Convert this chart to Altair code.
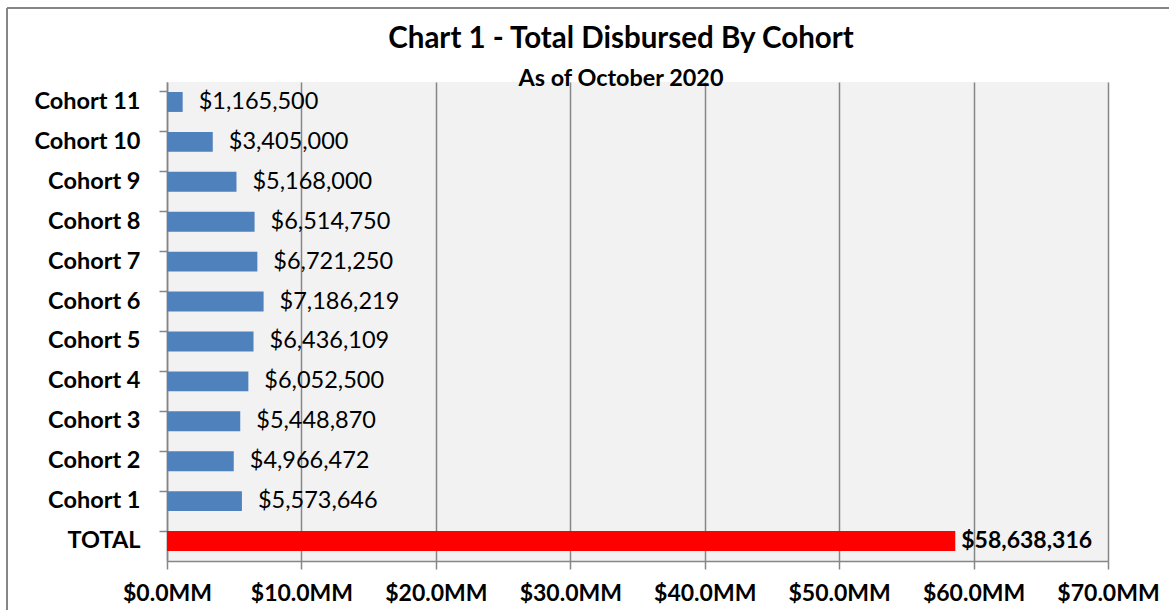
import altair as alt
import pandas as pd

title_text = "Chart 1 - Total Disbursed By Cohort"
subtitle_text = "As of October 2020"
categories = ["Cohort 11", "Cohort 10", "Cohort 9", "Cohort 8", "Cohort 7", "Cohort 6",
              "Cohort 5", "Cohort 4", "Cohort 3", "Cohort 2", "Cohort 1", "TOTAL"]
values = [1165500, 3405000, 5168000, 6514750, 6721250, 7186219,
          6436109, 6052500, 5448870, 4966472, 5573646, 58638316]
colors = ["#4F81BD"] * 11 + ["#FF0000"]
x_ticks = [0, 10e6, 20e6, 30e6, 40e6, 50e6, 60e6, 70e6]

df = pd.DataFrame({"cat": categories, "val": values, "color": colors,
                   "is_total": [c == "TOTAL" for c in categories]})

FONT = "Lato"
GRID = "#868686"

y_enc = alt.Y("cat:N", sort=categories, title=None,
              scale=alt.Scale(paddingInner=0.5, paddingOuter=0.25),
              axis=alt.Axis(labelFont=FONT, labelFontWeight="bold", labelFontSize=23.5,
                            labelColor="#000000", labelPadding=19, tickSize=8,
                            tickColor=GRID, domainColor=GRID, domainWidth=1.5,
                            tickWidth=1.5, bandPosition=0, grid=False))
x_enc = alt.X("val:Q", title=None,
              scale=alt.Scale(domain=[0, 70e6], nice=False),
              axis=alt.Axis(values=x_ticks, labelExpr="'$' + format(datum.value/1e6, '.1f') + 'MM'",
                            labelFont=FONT, labelFontWeight="bold", labelFontSize=23,
                            labelColor="#000000", labelPadding=13, tickSize=8,
                            labelOverlap=False, labelFlush=False, labelBound=False,
                            tickColor=GRID, domainColor=GRID, domainWidth=1.5, tickWidth=1.5,
                            grid=True, gridColor=GRID, gridWidth=1.5))

base = alt.Chart(df)

bars = base.mark_bar().encode(
    x=x_enc, y=y_enc,
    color=alt.Color("color:N", scale=None),
)

labels = base.transform_filter("!datum.is_total").mark_text(
    align="left", baseline="middle", dx=16, font=FONT, fontSize=23.5, color="#000000"
).encode(x="val:Q", y=alt.Y("cat:N", sort=categories), text=alt.Text("val:Q", format="$,.0f"))

total_label = base.transform_filter("datum.is_total").mark_text(
    align="left", baseline="middle", dx=6, font=FONT, fontSize=23, fontWeight="bold", color="#000000"
).encode(x="val:Q", y=alt.Y("cat:N", sort=categories), text=alt.Text("val:Q", format="$,.0f"))

border_left = base.mark_rule(color=GRID, strokeWidth=1.5).encode(
    x=alt.value(-160), y=alt.value(-74), y2=alt.value(560))
border_top = base.mark_rule(color=GRID, strokeWidth=1.5).encode(
    x=alt.value(-160), x2=alt.value(1100), y=alt.value(-74))

title_mark = alt.Chart(pd.DataFrame({"t": [title_text]})).mark_text(
    align="center", baseline="alphabetic", font=FONT, fontSize=29.5, fontWeight="bold", color="#000000"
).encode(x=alt.value(454), y=alt.value(-34), text="t:N")

subtitle_mark = alt.Chart(pd.DataFrame({"t": [subtitle_text]})).mark_text(
    align="center", baseline="alphabetic", font=FONT, fontSize=23.4, fontWeight="bold", color="#000000"
).encode(x=alt.value(454), y=alt.value(4), text="t:N")

chart = alt.layer(bars, labels, total_label, border_left, border_top, title_mark, subtitle_mark).properties(
    width=941, height=479,
    background="#FFFFFF",
    autosize=alt.AutoSizeParams(type="none"),
    padding={"left": 167, "top": 82, "right": 61, "bottom": 49},
).configure_view(fill="#F2F2F2", stroke=None)

chart.save("out.html", embed_options={"renderer": "svg", "actions": False})
